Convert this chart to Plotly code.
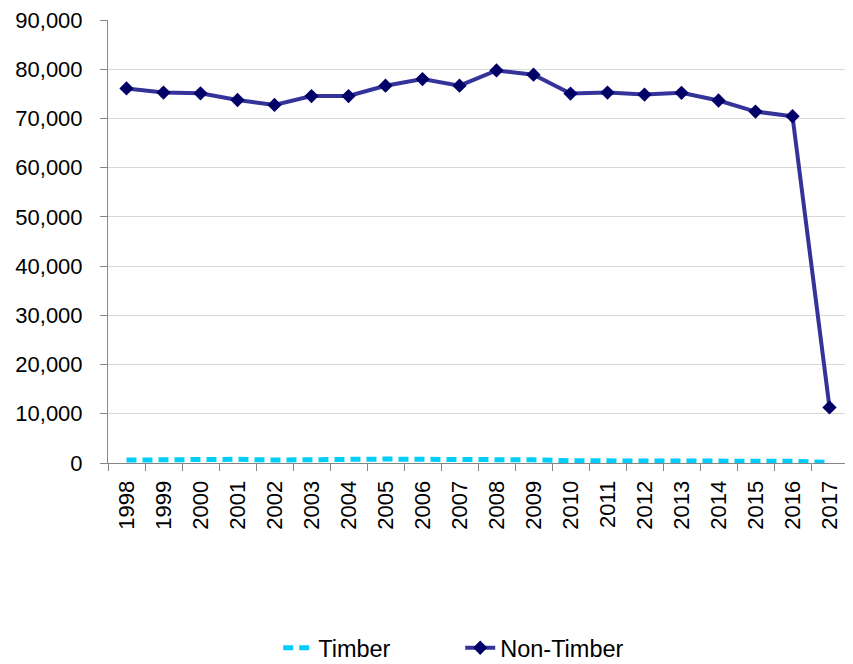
import plotly.graph_objects as go

years = [str(y) for y in range(1998, 2018)]
timber = [600, 650, 800, 750, 600, 750, 900, 800, 750, 800, 850, 650, 450, 450, 500, 450, 400, 400, 350, 100]
non_timber = [76100, 75250, 75100, 73750, 72750, 74550, 74550, 76650, 78000, 76650,
              79750, 78900, 75050, 75250, 74850, 75200, 73650, 71400, 70450, 11300]
y_ticks = [0, 10000, 20000, 30000, 40000, 50000, 60000, 70000, 80000, 90000]

fig = go.Figure()
fig.add_trace(go.Scatter(
    x=years, y=timber, name="Timber", mode="lines",
    line=dict(color="#00CCFF", width=5, dash="10px,6px"),
))
fig.add_trace(go.Scatter(
    x=years, y=non_timber, name="Non-Timber", mode="lines+markers",
    line=dict(color="#333399", width=4),
    marker=dict(symbol="diamond", size=11, color="#000066"),
))

font = "Liberation Sans, Arial, sans-serif"
fig.update_layout(
    width=845, height=656,
    margin=dict(l=100, r=5, t=12, b=201, pad=0),
    plot_bgcolor="white", paper_bgcolor="white",
    font=dict(family=font, size=22, color="#000000"),
    showlegend=True,
    legend=dict(orientation="h", x=0.23, xanchor="left",
                yref="container", y=0.0244, yanchor="middle",
                font=dict(size=23.5), entrywidth=137, entrywidthmode="pixels",
                tracegroupgap=0, bgcolor="rgba(0,0,0,0)"),
    xaxis=dict(
        type="category", range=[-0.5, 19.5], tickangle=-90, showgrid=False,
        showline=True, linecolor="#868686", linewidth=1,
        ticks="outside", tickson="boundaries", ticklen=7, tickcolor="#868686",
        ticklabelstandoff=8, ticklabeloverflow="allow",
        tickfont=dict(size=22), fixedrange=True, automargin=False,
    ),
    yaxis=dict(
        range=[0, 90000], tickvals=y_ticks, tickformat=",",
        showgrid=True, gridcolor="#d9d9d9", gridwidth=1,
        showline=True, linecolor="#868686", linewidth=1,
        ticks="outside", ticklen=7, tickcolor="#868686", ticklabelstandoff=13,
        ticklabeloverflow="allow",
        zeroline=False, tickfont=dict(size=22), automargin=False,
    ),
)
fig.write_html("out.html")
